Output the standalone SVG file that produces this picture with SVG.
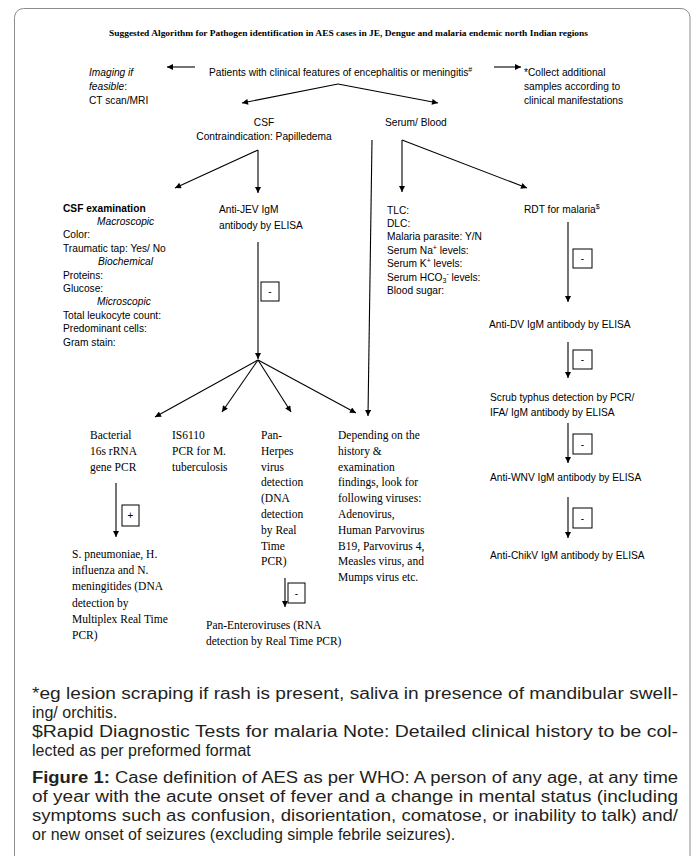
<svg xmlns="http://www.w3.org/2000/svg" width="696" height="856" viewBox="0 0 696 856">
<defs>
<style>
.c{font-family:"Liberation Sans",Arial,sans-serif;font-size:10.2px;fill:#000}
.t{font-family:"Liberation Serif","Times New Roman",serif;font-size:11.5px;fill:#000}
.ttl{font-family:"Liberation Serif","Times New Roman",serif;font-size:9px;font-weight:bold;fill:#000}
.cap{font-family:"Liberation Sans",Arial,sans-serif;font-size:16px;fill:#231f20}
.i{font-style:italic}
.b{font-weight:bold}
.sup{font-size:7px}
.ln{stroke:#000;stroke-width:1.1;fill:none}
.arr{stroke:#000;stroke-width:1.1;fill:none;marker-end:url(#ah)}
.bx{fill:#fff;stroke:#000;stroke-width:1}
.sg{font-family:"Liberation Sans",Arial,sans-serif;font-size:10px;fill:#000;text-anchor:middle}
</style>
<marker id="ah" viewBox="0 0 10 10" refX="10" refY="5" markerWidth="7" markerHeight="6" markerUnits="userSpaceOnUse" orient="auto"><path d="M0,0 L10,5 L0,10 z" fill="#000"/></marker>
</defs>
<rect width="696" height="856" fill="#fff"/>
<rect x="14.5" y="8.5" width="675.5" height="880" rx="9" fill="none" stroke="#8c8c8c" stroke-width="1"/>

<g id="title"><text class="ttl" x="348.5" y="36" text-anchor="middle" textLength="479" lengthAdjust="spacingAndGlyphs">Suggested Algorithm for Pathogen identification in AES cases in JE, Dengue and malaria endemic north Indian regions</text></g>

<g id="connectors">
<line class="arr" x1="195" y1="67" x2="167" y2="67"/>
<line class="arr" x1="494" y1="67" x2="521" y2="67"/>
<line class="arr" x1="338" y1="84" x2="242" y2="103"/>
<line class="arr" x1="338" y1="84" x2="438" y2="103"/>
<line class="arr" x1="258" y1="150" x2="175" y2="188"/>
<line class="arr" x1="258" y1="150" x2="258" y2="193"/>
<line class="arr" x1="402" y1="140" x2="402" y2="192"/>
<line class="arr" x1="402" y1="140" x2="527" y2="188"/>
<line class="arr" x1="372" y1="140" x2="368" y2="416"/>
<line class="arr" x1="258" y1="242" x2="258" y2="359"/>
<line class="arr" x1="258" y1="360" x2="155" y2="417"/>
<line class="arr" x1="258" y1="360" x2="222" y2="412"/>
<line class="arr" x1="258" y1="360" x2="291" y2="412"/>
<line class="arr" x1="258" y1="360" x2="356" y2="413"/>
<line class="arr" x1="568" y1="222" x2="568" y2="302"/>
<line class="arr" x1="568" y1="342" x2="568" y2="378"/>
<line class="arr" x1="568" y1="423" x2="568" y2="463"/>
<line class="arr" x1="568" y1="497" x2="568" y2="538"/>
<line class="arr" x1="116" y1="483" x2="116" y2="537"/>
<line class="arr" x1="285" y1="578" x2="285" y2="607"/>
</g>

<g id="sign-jev"><rect class="bx" x="261" y="282" width="18" height="19"/><text class="sg" x="270" y="295">-</text></g>
<g id="sign-rdt"><rect class="bx" x="573" y="249" width="19" height="19"/><text class="sg" x="582.5" y="262">-</text></g>
<g id="sign-dv"><rect class="bx" x="573" y="350" width="19" height="19"/><text class="sg" x="582.5" y="363">-</text></g>
<g id="sign-scrub"><rect class="bx" x="573" y="434" width="19" height="20"/><text class="sg" x="582.5" y="447.5">-</text></g>
<g id="sign-wnv"><rect class="bx" x="573" y="508" width="19" height="20"/><text class="sg" x="582.5" y="521.5">-</text></g>
<g id="sign-bact"><rect class="bx" x="122" y="505" width="17" height="21"/><text class="sg" x="130.5" y="519">+</text></g>
<g id="sign-herpes"><rect class="bx" x="288" y="583" width="17" height="20"/><text class="sg" x="296.5" y="596.5">-</text></g>

<g id="imaging"><text class="c" x="89" y="76"><tspan class="i">Imaging if</tspan></text><text class="c" x="89" y="90"><tspan class="i">feasible</tspan>:</text><text class="c" x="89" y="104">CT scan/MRI</text></g>
<g id="patients"><text class="c" x="209" y="76">Patients with clinical features of encephalitis or meningitis<tspan class="sup" dy="-4">#</tspan></text></g>
<g id="collect"><text class="c" x="524" y="76">*Collect additional</text><text class="c" x="524" y="90">samples according to</text><text class="c" x="524" y="104">clinical manifestations</text></g>
<g id="csf"><text class="c" x="264" y="126" text-anchor="middle">CSF</text><text class="c" x="264" y="140" text-anchor="middle">Contraindication: Papilledema</text></g>
<g id="serum"><text class="c" x="385" y="126">Serum/ Blood</text></g>

<g id="csf-exam">
<text class="c b" x="63" y="211.5">CSF examination</text>
<text class="c i" x="97" y="224.9">Macroscopic</text>
<text class="c" x="63" y="238.3">Color:</text>
<text class="c" x="63" y="251.7">Traumatic tap: Yes/ No</text>
<text class="c i" x="98" y="265.1">Biochemical</text>
<text class="c" x="63" y="278.5">Proteins:</text>
<text class="c" x="63" y="291.9">Glucose:</text>
<text class="c i" x="97" y="305.3">Microscopic</text>
<text class="c" x="63" y="318.7">Total leukocyte count:</text>
<text class="c" x="63" y="332.1">Predominant cells:</text>
<text class="c" x="63" y="345.5">Gram stain:</text>
</g>
<g id="jev"><text class="c" x="219" y="212.5">Anti-JEV IgM</text><text class="c" x="219" y="228.5">antibody by ELISA</text></g>
<g id="blood-tests">
<text class="c" x="387" y="213.5">TLC:</text>
<text class="c" x="387" y="226.9">DLC:</text>
<text class="c" x="387" y="240.3">Malaria parasite: Y/N</text>
<text class="c" x="387" y="253.7">Serum Na<tspan class="sup" dy="-4">+</tspan><tspan dy="4"> levels:</tspan></text>
<text class="c" x="387" y="267.1">Serum K<tspan class="sup" dy="-4">+</tspan><tspan dy="4"> levels:</tspan></text>
<text class="c" x="387" y="280.5">Serum HCO<tspan class="sup" dy="2">3</tspan><tspan class="sup" dy="-6.5">-</tspan><tspan dy="4.5" xml:space="preserve"> levels:</tspan></text>
<text class="c" x="387" y="293.9">Blood sugar:</text>
</g>
<g id="rdt"><text class="c" x="524" y="212.5">RDT for malaria<tspan class="sup" dy="-4">$</tspan></text></g>
<g id="dv"><text class="c" x="489" y="327.5">Anti-DV IgM antibody by ELISA</text></g>
<g id="scrub"><text class="c" x="490" y="400.5">Scrub typhus detection by PCR/</text><text class="c" x="490" y="415.5">IFA/ IgM antibody by ELISA</text></g>
<g id="wnv"><text class="c" x="490" y="480.5">Anti-WNV IgM antibody by ELISA</text></g>
<g id="chikv"><text class="c" x="490" y="558.5">Anti-ChikV IgM antibody by ELISA</text></g>

<g id="bacterial"><text class="t" x="90" y="439">Bacterial</text><text class="t" x="90" y="454.8">16s rRNA</text><text class="t" x="90" y="470.6">gene PCR</text></g>
<g id="is6110"><text class="t" x="172" y="439">IS6110</text><text class="t" x="172" y="454.8">PCR for M.</text><text class="t" x="172" y="470.6">tuberculosis</text></g>
<g id="panherpes">
<text class="t" x="261" y="439">Pan-</text>
<text class="t" x="261" y="454.8">Herpes</text>
<text class="t" x="261" y="470.6">virus</text>
<text class="t" x="261" y="486.4">detection</text>
<text class="t" x="261" y="502.2">(DNA</text>
<text class="t" x="261" y="518">detection</text>
<text class="t" x="261" y="533.8">by Real</text>
<text class="t" x="261" y="549.6">Time</text>
<text class="t" x="261" y="565.4">PCR)</text>
</g>
<g id="depending">
<text class="t" x="338" y="439">Depending on the</text>
<text class="t" x="338" y="454.8">history &amp;</text>
<text class="t" x="338" y="470.6">examination</text>
<text class="t" x="338" y="486.4">findings, look for</text>
<text class="t" x="338" y="502.2">following viruses:</text>
<text class="t" x="338" y="518">Adenovirus,</text>
<text class="t" x="338" y="533.8">Human Parvovirus</text>
<text class="t" x="338" y="549.6">B19, Parvovirus 4,</text>
<text class="t" x="338" y="565.4">Measles virus, and</text>
<text class="t" x="338" y="581.2">Mumps virus etc.</text>
</g>
<g id="bact-result">
<text class="t" x="72" y="558">S. pneumoniae, H.</text>
<text class="t" x="72" y="574.2">influenza and N.</text>
<text class="t" x="72" y="590.4">meningitides (DNA</text>
<text class="t" x="72" y="606.6">detection by</text>
<text class="t" x="72" y="622.8">Multiplex Real Time</text>
<text class="t" x="72" y="639">PCR)</text>
</g>
<g id="entero"><text class="t" x="206" y="629">Pan-Enteroviruses (RNA</text><text class="t" x="206" y="644.5">detection by Real Time PCR)</text></g>

<g id="caption">
<text class="cap" x="32" y="699" textLength="646" lengthAdjust="spacingAndGlyphs">*eg lesion scraping if rash is present, saliva in presence of mandibular swell-</text>
<text class="cap" x="32" y="718">ing/ orchitis.</text>
<text class="cap" x="32" y="737" textLength="646" lengthAdjust="spacingAndGlyphs">$Rapid Diagnostic Tests for malaria Note: Detailed clinical history to be col-</text>
<text class="cap" x="32" y="756">lected as per preformed format</text>
<text class="cap" x="32" y="783" textLength="646" lengthAdjust="spacingAndGlyphs"><tspan class="b">Figure 1:</tspan> Case definition of AES as per WHO: A person of any age, at any time</text>
<text class="cap" x="32" y="802" textLength="646" lengthAdjust="spacingAndGlyphs">of year with the acute onset of fever and a change in mental status (including</text>
<text class="cap" x="32" y="821" textLength="646" lengthAdjust="spacingAndGlyphs">symptoms such as confusion, disorientation, comatose, or inability to talk) and/</text>
<text class="cap" x="32" y="840">or new onset of seizures (excluding simple febrile seizures).</text>
</g>
</svg>
